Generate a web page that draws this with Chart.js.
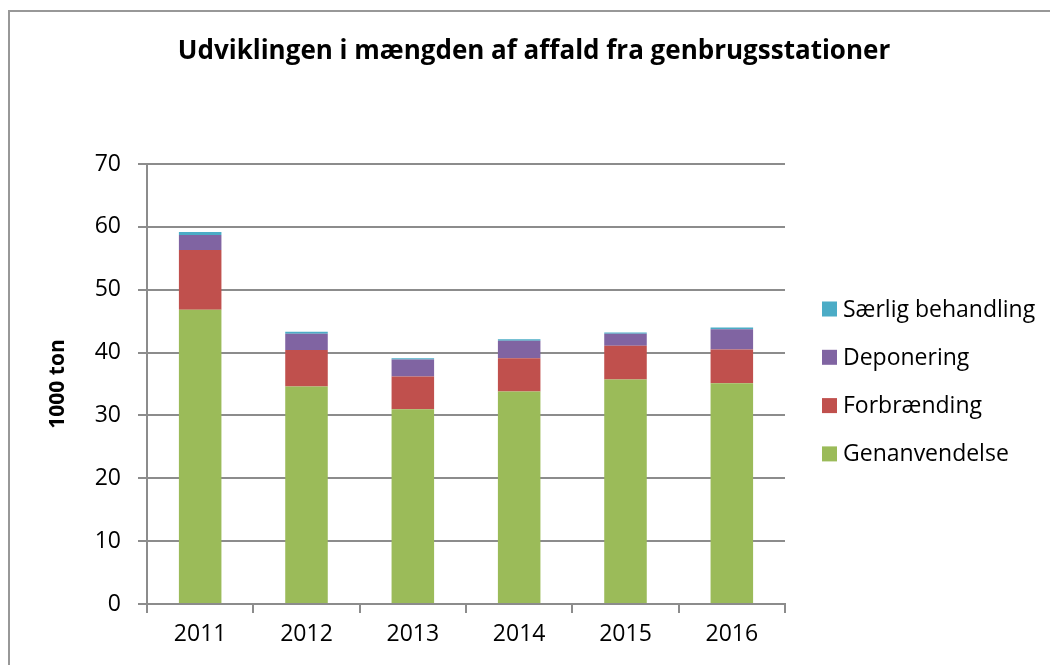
<!DOCTYPE html>
<html>
<head>
<meta charset="utf-8">
<script src="https://cdn.jsdelivr.net/npm/chart.js@4.4.1/dist/chart.umd.min.js"></script>
<style>
  html, body { margin: 0; padding: 0; background: #ffffff; }
  #frame { position: absolute; left: 8px; top: 10px; width: 1100px; height: 700px;
           border-left: 2px solid #989898; border-top: 2px solid #989898; }
  #wrap { position: absolute; left: 0; top: 0; width: 1050px; height: 665px; }
</style>
</head>
<body>
<div id="frame"></div>
<div id="wrap"><canvas id="c" width="1050" height="665"></canvas></div>
<script>
const categories = ['2011', '2012', '2013', '2014', '2015', '2016'];
const genanvendelse = [46.8, 34.6, 31.0, 33.8, 35.7, 35.1];
const forbraending  = [9.5, 5.8, 5.2, 5.3, 5.4, 5.4];
const deponering    = [2.4, 2.6, 2.7, 2.8, 1.9, 3.2];
const saerlig       = [0.5, 0.3, 0.2, 0.2, 0.2, 0.3];
const seriesNames = ['Genanvendelse', 'Forbrænding', 'Deponering', 'Særlig behandling'];
const seriesColors = ['#9BBB59', '#C0504D', '#8064A2', '#4BACC6'];
const titleText = 'Udviklingen i mængden af affald fra genbrugsstationer';
const yTitle = '1000 ton';

const FONT = '"Open Sans", Lato, sans-serif';
const GRID = '#8c8c8c';

const decorPlugin = {
  id: 'decor',
  afterDraw(chart) {
    const ctx = chart.ctx;
    const ds = chart.data.datasets;
    const area = chart.chartArea;
    ctx.save();
    // title
    ctx.font = 'bold 26px ' + FONT;
    ctx.fillStyle = '#000000';
    ctx.textAlign = 'center';
    ctx.textBaseline = 'alphabetic';
    ctx.fillText(titleText, 534, 59);
    // legend
    const x0 = area.right + 37;
    const yStart = 309;
    const step = 48.3;
    ctx.font = '23px ' + FONT;
    ctx.textBaseline = 'middle';
    ctx.textAlign = 'left';
    for (let i = ds.length - 1, k = 0; i >= 0; i--, k++) {
      const y = yStart + k * step;
      ctx.fillStyle = ds[i].backgroundColor;
      ctx.fillRect(x0, y - 7.5, 15, 15);
      ctx.fillStyle = '#000000';
      ctx.fillText(ds[i].label, x0 + 21, y + 1);
    }
    ctx.restore();
  }
};

new Chart(document.getElementById('c'), {
  type: 'bar',
  data: {
    labels: categories,
    datasets: [
      { label: seriesNames[0], data: genanvendelse, backgroundColor: seriesColors[0] },
      { label: seriesNames[1], data: forbraending, backgroundColor: seriesColors[1] },
      { label: seriesNames[2], data: deponering, backgroundColor: seriesColors[2] },
      { label: seriesNames[3], data: saerlig, backgroundColor: seriesColors[3] }
    ]
  },
  options: {
    responsive: false,
    animation: false,
    layout: { padding: { left: 0, right: 265, top: 164, bottom: 0 } },
    datasets: { bar: { barPercentage: 0.4, categoryPercentage: 1.0, borderWidth: 0 } },
    plugins: {
      legend: { display: false },
      tooltip: { enabled: false },
      title: { display: false }
    },
    scales: {
      x: {
        stacked: true,
        offset: true,
        grid: { display: true, drawOnChartArea: false, drawTicks: true, tickLength: 9, offset: true, color: GRID, lineWidth: 2 },
        border: { display: true, color: GRID, width: 2 },
        ticks: { color: '#000000', font: { family: FONT, size: 23 }, padding: 8, maxRotation: 0 },
        afterFit(scale) { scale.height = 61; }
      },
      y: {
        stacked: true,
        min: 0,
        max: 70,
        ticks: { stepSize: 10, color: '#000000', font: { family: FONT, size: 23 }, padding: 17 },
        grid: { color: GRID, lineWidth: 2, tickLength: 9, drawTicks: true },
        border: { display: true, color: GRID, width: 2 },
        title: {
          display: true,
          text: yTitle,
          color: '#000000',
          font: { family: FONT, size: 21, weight: 'bold', lineHeight: 1.2 },
          padding: { top: 45, bottom: 0 }
        },
        afterFit(scale) { scale.width = 147; }
      }
    }
  },
  plugins: [decorPlugin]
});
</script>
</body>
</html>
